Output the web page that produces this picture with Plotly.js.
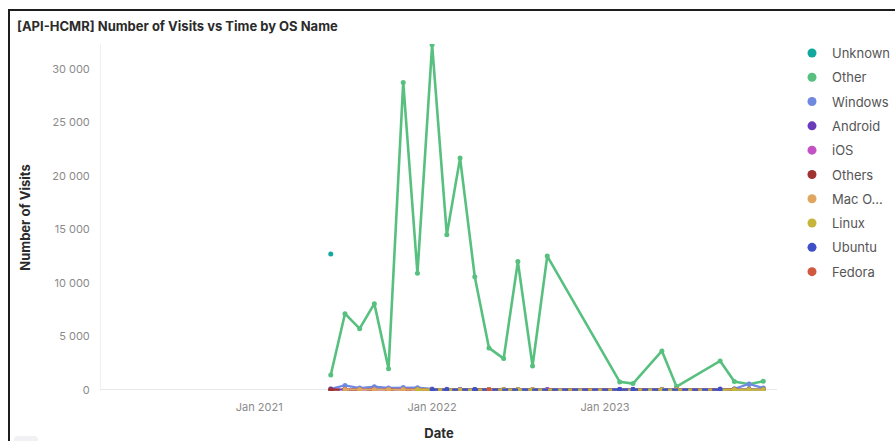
<!DOCTYPE html>
<html>
<head>
<meta charset="utf-8">
<script src="https://cdn.plot.ly/plotly-3.0.1.min.js"></script>
<style>
  html, body { margin: 0; padding: 0; background: #fff; }
  #wrap { position: relative; width: 895px; height: 441px; overflow: hidden; }
  #chart { position: absolute; left: 0; top: 0; width: 895px; height: 441px; }
  #frame { position: absolute; left: 8px; top: 9px; width: 900px; height: 450px;
           border-left: 2px solid #1e1e1e; border-top: 2px solid #1e1e1e; pointer-events: none; }
  #tab { position: absolute; left: 14px; top: 436px; width: 24px; height: 10px;
         background: #f1f1f3; border-radius: 4px; pointer-events: none; }
</style>
</head>
<body>
<div id="wrap">
  <div id="chart"></div>
  <div id="frame"></div>
  <div id="tab"></div>
</div>
<script>
// ---- data ----
const dates = ['2021-06-01','2021-07-01','2021-08-01','2021-09-01','2021-10-01','2021-11-01',
               '2021-12-01','2022-01-01','2022-02-01','2022-03-01','2022-04-01','2022-05-01',
               '2022-06-01','2022-07-01','2022-08-01','2022-09-01','2023-02-01','2023-03-01',
               '2023-05-01','2023-06-01','2023-09-01','2023-10-01','2023-11-01','2023-12-01'];

const seriesNames = ['Unknown','Other','Windows','Android','iOS','Others','Mac O...','Linux','Ubuntu','Fedora'];

const unknownVals = [12700,null,null,null,null,null,null,null,null,null,null,null,
                     null,null,null,null,null,null,null,null,null,null,null,null];
const otherVals   = [1400,7130,5730,8070,1990,28760,10900,32270,14520,21680,10590,3930,
                     2930,12000,2240,12520,750,590,3650,310,2710,780,530,810];
const windowsVals = [110,420,170,300,190,230,210,90,70,60,50,50,
                     40,40,40,40,60,60,70,60,90,110,560,170];
const androidVals = [40,60,50,60,50,50,50,40,40,30,30,30,
                     30,30,30,30,50,50,40,40,60,60,80,60];
const iosVals     = [null,null,null,null,null,null,null,null,null,null,null,null,
                     null,null,null,20,null,null,null,null,25,null,null,null];
const othersVals  = [30,30,null,null,null,null,20,null,null,null,null,20,
                     null,null,null,null,null,null,null,20,null,20,null,null];
const macVals     = [null,40,30,40,30,40,null,null,null,20,null,null,
                     null,null,null,null,null,null,null,null,null,null,null,null];
const linuxVals   = [null,null,null,null,null,null,30,30,30,null,30,30,
                     30,30,30,null,null,null,30,30,null,30,40,30];
const ubuntuVals  = [null,null,null,null,null,null,null,30,30,null,30,null,
                     null,null,null,null,30,30,null,null,30,null,null,null];
const fedoraVals  = [null,null,null,null,null,null,null,null,null,null,null,20,
                     null,null,null,null,null,null,null,null,null,null,null,null];

const seriesVals = [unknownVals, otherVals, windowsVals, androidVals, iosVals,
                    othersVals, macVals, linuxVals, ubuntuVals, fedoraVals];
const colors = ['#13a89e','#58c07f','#7089e0','#6a3cbc','#c452c4',
                '#a13232','#e0a55e','#c7b43a','#3e4fc8','#cf583f'];
const dashes = ['solid','solid','solid','solid','dash','dash','solid','solid','6px,4px','solid'];

const traces = [];
seriesNames.forEach((name, i) => {
  traces.push({
    type: 'scatter',
    x: dates,
    y: seriesVals[i],
    name: name,
    mode: i === 0 ? 'markers' : 'lines+markers',
    connectgaps: true,
    line: { color: colors[i], width: i === 1 ? 2.6 : 2.2, dash: dashes[i] },
    marker: { color: colors[i], size: 5 },
    showlegend: false,
    hoverinfo: 'x+y+name'
  });
});
// legend entries (dot only)
seriesNames.forEach((name, i) => {
  traces.push({
    type: 'scatter', x: [null], y: [null], name: name, mode: 'markers',
    marker: { color: colors[i], size: 9 }, legendgroup: 'g' + i, showlegend: true
  });
});

const layout = {
  width: 895, height: 441,
  paper_bgcolor: '#ffffff', plot_bgcolor: '#ffffff',
  separators: '. ',
  font: { family: 'Inter, "Noto Sans", sans-serif', color: '#666' },
  margin: { l: 101, r: 118, t: 44, b: 50, pad: 0, autoexpand: false },
  title: {
    text: '[API-HCMR] Number of Visits vs Time by OS Name',
    font: { family: 'Inter, sans-serif', size: 13, color: '#2b2b2b', weight: 700 },
    xref: 'container', x: 17 / 895, xanchor: 'left',
    yref: 'container', y: 1 - 26 / 441, yanchor: 'middle'
  },
  xaxis: {
    type: 'date',
    automargin: false,
    range: ['2020-02-02', '2023-12-30'],
    tickvals: ['2021-01-01','2022-01-01','2023-01-01'],
    ticktext: ['Jan 2021','Jan 2022','Jan 2023'],
    showgrid: false, zeroline: false, showline: false, ticks: '',
    ticklabelstandoff: 8,
    tickfont: { family: 'Inter, sans-serif', size: 11, color: '#8a8a8a' },
    title: { text: 'Date', font: { family: 'Inter, sans-serif', size: 13, color: '#2b2b2b', weight: 700 }, standoff: 26 }
  },
  yaxis: {
    automargin: false,
    range: [-100, 32350],
    tickvals: [0,5000,10000,15000,20000,25000,30000],
    tickformat: ',d',
    showgrid: false,
    zeroline: true, zerolinecolor: '#e8e8ea', zerolinewidth: 1,
    showline: true, linecolor: '#efeff2', linewidth: 1,
    ticks: '', ticklabelstandoff: 8,
    tickfont: { family: 'Inter, sans-serif', size: 11, color: '#8a8a8a' },
    title: { text: 'Number of Visits', font: { family: 'Inter, sans-serif', size: 13, color: '#2b2b2b', weight: 700 }, standoff: 18 }
  },
  legend: {
    xref: 'container', x: 792 / 895, xanchor: 'left',
    yref: 'container', y: 1 - 38 / 441, yanchor: 'top',
    maxheight: 380,
    font: { family: 'Inter, sans-serif', size: 13, color: '#555' },
    traceorder: 'grouped', tracegroupgap: 4.4, itemwidth: 30,
    bgcolor: 'rgba(0,0,0,0)'
  },
  showlegend: true
};

Plotly.newPlot('chart', traces, layout, { displayModeBar: false });
</script>
</body>
</html>
